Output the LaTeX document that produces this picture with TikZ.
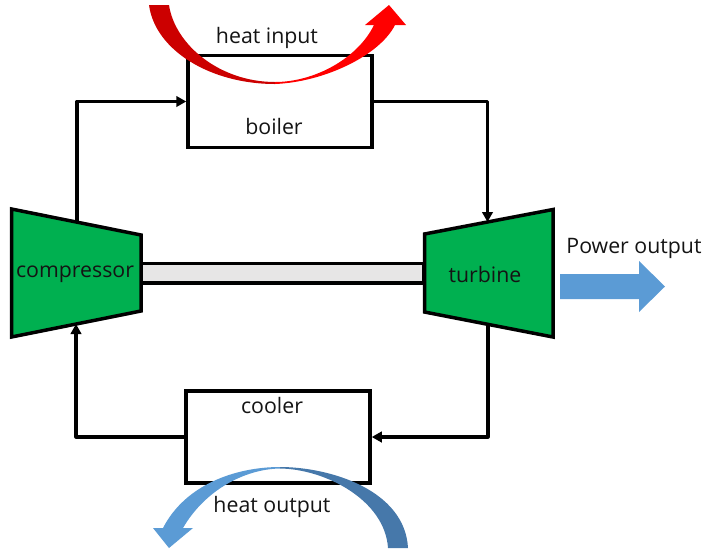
\documentclass[tikz,border=0pt]{standalone}
\usepackage{fontspec}
\setmainfont{Open Sans}
\usetikzlibrary{arrows.meta}
\definecolor{machgreen}{HTML}{00B050}
\definecolor{shaftgrey}{HTML}{E7E6E6}
\definecolor{powerblue}{HTML}{5B9BD5}
\definecolor{darkblue}{HTML}{4678AA}
\definecolor{darkred}{HTML}{CC0000}
\tikzset{
  x=1pt,y=-1pt,
  machine/.style={draw=black,line width=3.5pt,fill=machgreen,line join=miter},
  boxnode/.style={draw=black,line width=3.5pt,fill=white,inner sep=0pt,minimum width=184pt,minimum height=92pt},
  flow/.style={draw=black,line width=3.2pt,line join=round},
  flowtip/.style={flow,-{Triangle[length=10pt,width=10.5pt]}},
  lbl/.style={font=\fontsize{21.3pt}{25pt}\selectfont,text=black!92,inner sep=0pt,anchor=base}
}
\begin{document}
\begin{tikzpicture}
\useasboundingbox (0,0) rectangle (704,550);
% shaft
\path[draw=black,line width=3.2pt,fill=shaftgrey] (141,263.5) rectangle (424,283);
% machines
\coordinate (compin) at (76,324);
\coordinate (compout) at (77,222);
\coordinate (turbin) at (487.5,222);
\coordinate (turbout) at (488,324);
\path[machine] (11.5,209) -- (141,235) -- (141,311) -- (11.5,337) -- cycle;
\path[machine] (424.5,234) -- (553,209.5) -- (553,337) -- (424.5,312) -- cycle;
% boxes
\node[boxnode] (boiler) at (280,101.5) {};
\node[boxnode] (cooler) at (278,437) {};
% connectors
\draw[flowtip] (compout) |- (boiler.west);
\draw[flowtip] (boiler.east) -| (turbin);
\draw[flowtip] (turbout) |- (cooler.east);
\draw[flowtip] (cooler.west) -| (compin);
% labels
\node[lbl] (tcomp) at (75,277) {compressor};
\node[lbl] (tturb) at (485,282) {turbine};
\node[lbl] (tboil) at (274,134) {boiler};
\node[lbl] (tcool) at (272,413) {cooler};
\node[lbl] (tpow) at (634,253) {Power output};
\node[lbl] (thin) at (267,43) {heat input};
% red curved arrow
\path[fill=darkred]
  (149,5) .. controls (155,50) and (210,84) .. (275,84)
  -- (275,82) .. controls (220,82) and (175,45) .. (169,5) -- cycle;
\path[fill=red]
  (275,84) .. controls (325,82) and (380,55) .. (395,25)
  -- (406,25) -- (389,5) -- (365,25) -- (374,25)
  .. controls (358,58) and (315,82) .. (275,82) -- cycle;
% blue curved arrow
\path[fill=darkblue]
  (408,548) .. controls (405,490) and (330,467) .. (280,467)
  -- (280,468.5) .. controls (325,469) and (385,500) .. (388,548) -- cycle;
\path[fill=powerblue]
  (280,467) .. controls (235,467) and (185,485) .. (163,528)
  -- (153,528) -- (169,548) -- (193,528) -- (183,528)
  .. controls (205,490) and (245,469) .. (280,468.5) -- cycle;
\node[lbl] (thout) at (272,512) {heat output};
% power arrow
\path[fill=powerblue] (560,274) -- (639,274) -- (639,261) -- (665,286.5) -- (639,312) -- (639,299) -- (560,299) -- cycle;
\end{tikzpicture}
\end{document}
